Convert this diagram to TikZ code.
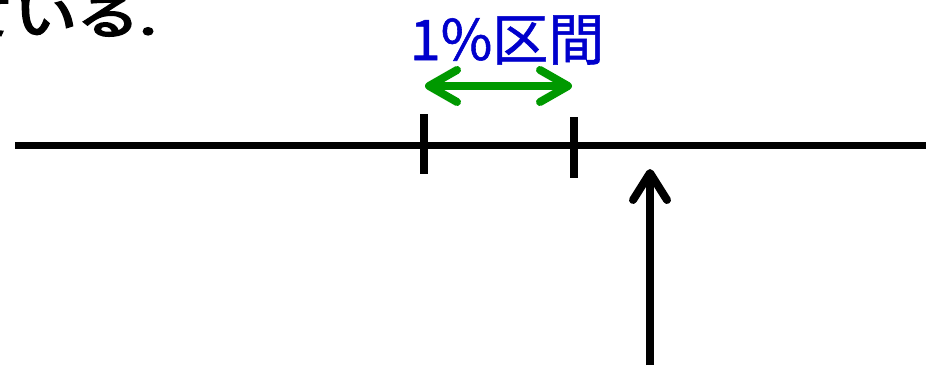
\documentclass[tikz,border=0pt]{standalone}
\usepackage{fontspec}
\newfontfamily\cjk[FakeBold=1]{Noto Sans CJK JP}
\newfontfamily\cjktop[FakeBold=4]{Noto Sans CJK JP}
\usetikzlibrary{arrows.meta}
\definecolor{lblue}{RGB}{0,0,204}
\definecolor{lgreen}{RGB}{0,153,0}
\tikzset{
  axisline/.style={line width=7pt, black},
  tickmark/.style={line width=7.5pt, black},
  spanarrow/.style={line width=8pt, lgreen, line cap=round,
    {Straight Barb[length=28pt,width=32pt,round]}-{Straight Barb[length=28pt,width=32pt,round]}},
  pointer/.style={line width=8pt, black,
    -{Straight Barb[length=27pt,width=34pt,round]}},
  bluelabel/.style={text=lblue, font=\cjk\fontsize{56pt}{60pt}\selectfont, inner sep=0pt},
  toptext/.style={text=black, font=\cjktop\fontsize{48pt}{52pt}\selectfont, inner sep=0pt, xscale=1.3}
}
\begin{document}
\begin{tikzpicture}[x=1pt,y=1pt]
\useasboundingbox (0,0) rectangle (926,365);
\coordinate (L) at (15,220);
\coordinate (R) at (926,220);
\draw[axisline] (L) -- (R);
\coordinate (t1a) at (424,251);
\coordinate (t1b) at (424,191);
\coordinate (t2a) at (574,248);
\coordinate (t2b) at (574,187);
\draw[tickmark] (t1a) -- (t1b);
\draw[tickmark] (t2a) -- (t2b);
\coordinate (g1) at (425,279);
\coordinate (g2) at (572,279);
\draw[spanarrow] (g1) -- (g2);
\coordinate (b0) at (650,0);
\coordinate (b1) at (650,196);
\draw[pointer] (b0) -- (b1);
\node[bluelabel, anchor=base] (lab) at (507,305) {1\%区間};
\node[toptext, anchor=base east] (top) at (157,331) {ている.};
\end{tikzpicture}
\end{document}
